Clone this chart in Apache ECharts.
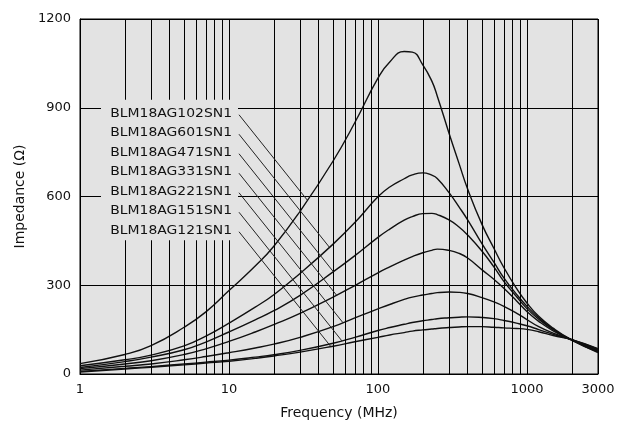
<!DOCTYPE html>
<html><head><meta charset="utf-8">
<script src="https://cdn.jsdelivr.net/npm/echarts@6/dist/echarts.min.js"></script>
<style>html,body{margin:0;padding:0;background:#fff}#c{width:644px;height:440px}</style>
</head><body><div id="c"></div>
<script>
// Frequency points (MHz)
const freqMHz = [1, 2, 3, 5, 7, 10, 15, 20, 30, 50, 70, 100, 120, 150, 170, 200, 230, 250, 300, 350, 400, 500, 600, 700, 850, 1000, 1200, 1500, 2000, 3000];
// Impedance (ohm) per part
const z102 = [35, 66, 96, 158, 210, 282, 365, 432, 550, 720, 850, 1000, 1055, 1090, 1088, 1045, 990, 940, 814, 712, 625, 505, 425, 360, 290, 240, 195, 155, 115, 72];
const z601 = [28, 48, 64, 95, 128, 172, 226, 268, 340, 439, 512, 599, 632, 660, 673, 680, 672, 661, 613, 565, 521, 440, 378, 325, 270, 229, 190, 152, 114, 75];
const z471 = [22, 42, 57, 82, 108, 142, 183, 214, 266, 345, 400, 462, 490, 520, 532, 542, 543, 539, 521, 497, 470, 415, 362, 313, 262, 221, 185, 150, 115, 77];
const z331 = [18, 34, 45, 66, 85, 110, 142, 167, 205, 260, 299, 342, 362, 385, 397, 410, 418, 422, 418, 408, 392, 352, 320, 290, 248, 211, 178, 146, 115, 79];
const z221 = [13, 26, 34, 48, 59, 72, 88, 101, 124, 160, 190, 220, 235, 252, 260, 267, 272, 275, 277, 276, 272, 258, 244, 229, 206, 184, 160, 138, 116, 82];
const z151 = [9, 19, 25, 34, 40, 47, 57, 65, 80, 104, 124, 147, 157, 168, 174, 180, 184, 187, 190, 192, 193, 191, 187, 181, 172, 163, 150, 134, 116, 84];
const z121 = [7, 17, 23, 31, 37, 43, 53, 61, 74, 94, 109, 124, 132, 140, 145, 149, 152, 154, 157, 159, 160, 160, 158, 156, 154, 151, 143, 130, 116, 86];
const partNames = ['BLM18AG102SN1', 'BLM18AG601SN1', 'BLM18AG471SN1', 'BLM18AG331SN1', 'BLM18AG221SN1', 'BLM18AG151SN1', 'BLM18AG121SN1'];
const impedance = [z102, z601, z471, z331, z221, z151, z121];
// Axis ticks / grid
const yTicks = [0, 300, 600, 900, 1200];
const minorGridMHz = [2, 3, 4, 5, 6, 7, 8, 9, 20, 30, 40, 50, 60, 70, 80, 90, 200, 300, 400, 500, 600, 700, 800, 900, 2000];

const FONT = 'DejaVu Sans';
const chart = echarts.init(document.getElementById('c'), null, {renderer: 'canvas'});

const series = partNames.map((name, k) => ({
  name: name,
  type: 'line',
  data: freqMHz.map((f, i) => [f, impedance[k][i]]),
  smooth: 0.5,
  symbol: 'none',
  silent: true,
  z: 3,
  lineStyle: {color: '#111', width: 1.4}
}));
series.push({
  type: 'line', data: [], silent: true, z: 1,
  markLine: {
    silent: true, symbol: ['none', 'none'], label: {show: false},
    lineStyle: {color: '#000', width: 1, type: 'solid'},
    data: minorGridMHz.map(f => ({xAxis: f}))
  }
});

const option = {
  animation: false,
  grid: {left: 80, right: 46, top: 19, bottom: 66, show: true, backgroundColor: '#e3e3e3', borderColor: '#000', borderWidth: 1},
  xAxis: {
    type: 'log', logBase: 10, min: 1, max: 3000,
    axisLine: {show: true, lineStyle: {color: '#000'}},
    axisTick: {show: false},
    splitLine: {show: true, lineStyle: {color: '#000', width: 1}},
    axisLabel: {color: '#111', fontFamily: FONT, fontSize: 13, margin: 9, showMaxLabel: true, showMinLabel: true,
      formatter: v => String(Math.round(v))},
    name: 'Frequency (MHz)', nameLocation: 'middle', nameGap: 32,
    nameTextStyle: {color: '#111', fontFamily: FONT, fontSize: 14}
  },
  yAxis: {
    type: 'value', min: yTicks[0], max: yTicks[yTicks.length - 1], interval: yTicks[1] - yTicks[0],
    axisLine: {show: true, lineStyle: {color: '#000'}},
    axisTick: {show: false},
    splitLine: {show: true, lineStyle: {color: '#000', width: 1}},
    axisLabel: {color: '#111', fontFamily: FONT, fontSize: 13, margin: 9, formatter: v => String(v)},
    name: 'Impedance (Ω)', nameLocation: 'middle', nameGap: 47, nameRotate: 90,
    nameTextStyle: {color: '#111', fontFamily: FONT, fontSize: 14}
  },
  series: series
};
chart.setOption(option);

// Labels with leader lines
const origin = chart.convertToPixel({gridIndex: 0}, [1, 900]);
const x0 = origin[0], y900 = origin[1];
const labelRight = x0 + 152, labelStep = 19.5, firstLabelY = y900 + 5.5;
const leaderX = x0 + 159, slope = 1.25;
const graphics = [];
const lastLabelY = firstLabelY + labelStep * (partNames.length - 1);
graphics.push({type: 'rect', z: 100, silent: true,
  shape: {x: x0 + 21, y: y900 - 8, width: 137, height: lastLabelY + 10 - (y900 - 8)},
  style: {fill: '#e3e3e3'}});
partNames.forEach((name, k) => {
  const ly = firstLabelY + labelStep * k;
  graphics.push({type: 'text', z: 101, silent: true, x: labelRight, y: ly, scaleX: 1.07,
    style: {text: name, fill: '#111', font: '13px "' + FONT + '"', align: 'right', verticalAlign: 'middle'}});
  const sx = leaderX, sy = ly + 1.5;
  const pts = freqMHz.map((f, i) => chart.convertToPixel({gridIndex: 0}, [f, impedance[k][i]]));
  let end = null;
  for (let i = 0; i < pts.length - 1 && !end; i++) {
    const [ax, ay] = pts[i], [bx, by] = pts[i + 1];
    if (bx < sx) continue;
    const ga = (sy + slope * (ax - sx)) - ay;
    const gb = (sy + slope * (bx - sx)) - by;
    if (ga <= 0 && gb > 0) {
      const t = -ga / (gb - ga);
      end = [ax + t * (bx - ax), ay + t * (by - ay)];
    }
  }
  if (end) {
    graphics.push({type: 'line', z: 101, silent: true,
      shape: {x1: sx, y1: sy, x2: end[0], y2: end[1]},
      style: {stroke: '#222', lineWidth: 1}});
  }
});
chart.setOption({graphic: graphics});
</script></body></html>
